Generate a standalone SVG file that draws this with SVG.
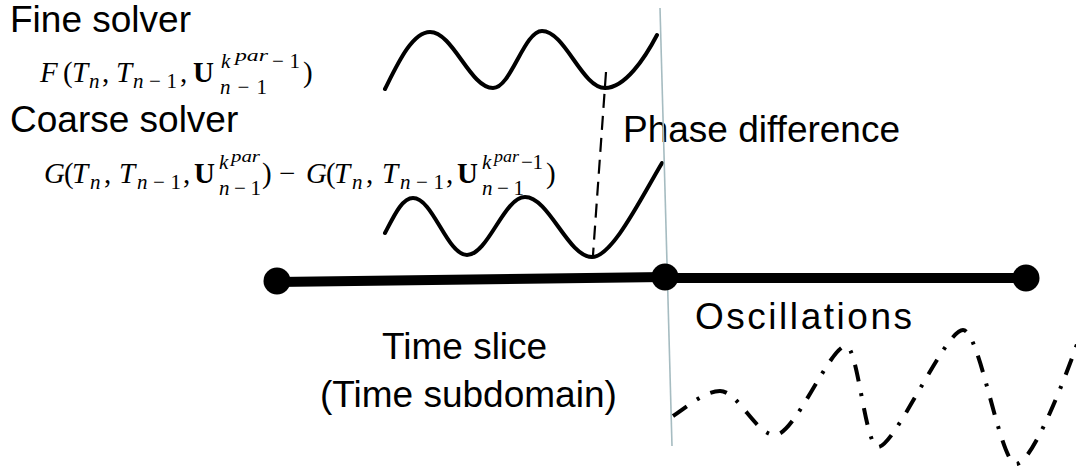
<svg xmlns="http://www.w3.org/2000/svg" width="1076" height="469" viewBox="0 0 1076 469">
  <style>
    .lbl { font-family: "Liberation Sans", Arial, sans-serif; font-size: 37px; fill: #000; }
    .m { font-family: "Liberation Serif", "Times New Roman", serif; font-size: 29px; fill: #000; }
    .mi { font-style: italic; }
    .mb { font-weight: bold; }
    .s { font-size: 21px; }
    .ss { font-size: 16px; }
    .wave { fill: none; stroke: #000; stroke-width: 4; stroke-linecap: round; stroke-linejoin: round; }
    .osc { fill: none; stroke: #000; stroke-width: 4; stroke-dasharray: 17 12 3 12; }
    .phase { fill: none; stroke: #000; stroke-width: 2.2; stroke-dasharray: 14 8; }
    .axis { stroke: #000; stroke-width: 10; }
    .dot { fill: #000; }
    .guide { stroke: #a6bcc1; stroke-width: 1.6; }
  </style>
  <rect width="1076" height="469" fill="#fff"/>

  <g id="fine-solver">
    <text class="lbl" x="10" y="32">Fine solver</text>
    <text class="m">
      <tspan class="mi" x="40" y="82">F</tspan>
      <tspan x="63" y="82">(</tspan>
      <tspan class="mi" x="72" y="82">T</tspan>
      <tspan class="mi s" x="89" y="88">n</tspan>
      <tspan x="102" y="82">,</tspan>
      <tspan class="mi" x="116" y="82">T</tspan>
      <tspan class="s" x="133" y="88" textLength="44" lengthAdjust="spacing"><tspan class="mi">n</tspan>−1</tspan>
      <tspan x="180" y="82">,</tspan>
      <tspan class="mb" x="193" y="82">U</tspan>
      <tspan class="s" x="220" y="94" textLength="47" lengthAdjust="spacing"><tspan class="mi">n</tspan>−1</tspan>
      <tspan class="mi s" x="221" y="68">k</tspan>
      <tspan class="mi ss" x="235" y="61" textLength="33" lengthAdjust="spacingAndGlyphs">par</tspan>
      <tspan class="s" x="272" y="68" textLength="28" lengthAdjust="spacing">−1</tspan>
      <tspan x="303" y="82">)</tspan>
    </text>
  </g>

  <g id="coarse-solver">
    <text class="lbl" x="10" y="132">Coarse solver</text>
    <text class="m">
      <tspan class="mi" x="44" y="183">G</tspan>
      <tspan x="64" y="183">(</tspan>
      <tspan class="mi" x="72" y="183">T</tspan>
      <tspan class="mi s" x="90" y="189">n</tspan>
      <tspan x="104" y="183">,</tspan>
      <tspan class="mi" x="119" y="183">T</tspan>
      <tspan class="s" x="137" y="189" textLength="44" lengthAdjust="spacing"><tspan class="mi">n</tspan>−1</tspan>
      <tspan x="183" y="183">,</tspan>
      <tspan class="mb" x="194" y="183">U</tspan>
      <tspan class="s" x="219" y="195" textLength="42" lengthAdjust="spacing"><tspan class="mi">n</tspan>−1</tspan>
      <tspan class="mi s" x="219" y="169">k</tspan>
      <tspan class="mi ss" x="231" y="162" textLength="29" lengthAdjust="spacingAndGlyphs">par</tspan>
      <tspan x="262" y="183">)</tspan>
      <tspan x="279" y="183">−</tspan>
      <tspan class="mi" x="306" y="183">G</tspan>
      <tspan x="326" y="183">(</tspan>
      <tspan class="mi" x="334" y="183">T</tspan>
      <tspan class="mi s" x="352" y="189">n</tspan>
      <tspan x="366" y="183">,</tspan>
      <tspan class="mi" x="382" y="183">T</tspan>
      <tspan class="s" x="400" y="189" textLength="44" lengthAdjust="spacing"><tspan class="mi">n</tspan>−1</tspan>
      <tspan x="446" y="183">,</tspan>
      <tspan class="mb" x="457" y="183">U</tspan>
      <tspan class="s" x="482" y="195" textLength="42" lengthAdjust="spacing"><tspan class="mi">n</tspan>−1</tspan>
      <tspan class="mi s" x="482" y="169">k</tspan>
      <tspan class="mi ss" x="494" y="162" textLength="25" lengthAdjust="spacingAndGlyphs">par</tspan>
      <tspan class="s" x="521" y="169" textLength="22" lengthAdjust="spacing">−1</tspan>
      <tspan x="546" y="183">)</tspan>
    </text>
  </g>

  <g id="fine-wave">
    <path class="wave" d="M385,89 C397,65 412,32 430,32 C453,32 470,88 493,88 C511,88 524,31 542,31 C565,31 582,88 605,88 C625,88 645,58 657,35"/>
  </g>

  <g id="coarse-wave">
    <path class="wave" d="M385,233 C394,216 402,198 413,198 C433,198 447,255 467,255 C488,255 504,197 525,197 C549,197 568,257 592,257 C612,257 640,200 662,163"/>
  </g>

  <g id="phase-difference">
    <text class="lbl" x="623" y="142">Phase difference</text>
  </g>

  <g id="guide-line">
    <line class="guide" x1="660" y1="8" x2="672" y2="446"/>
  </g>

  <g id="time-axis">
    <line class="axis" x1="277" y1="282" x2="665" y2="277"/>
    <line class="axis" x1="665" y1="278" x2="1026" y2="278"/>
    <circle class="dot" cx="277" cy="281" r="13.5"/>
    <circle class="dot" cx="665" cy="277" r="13.5"/>
    <circle class="dot" cx="1026" cy="278" r="13.5"/>
  </g>

  <g id="time-slice">
    <text class="lbl" x="382" y="359">Time slice</text>
    <text class="lbl" x="320" y="407">(Time subdomain)</text>
  </g>

  <g id="oscillations">
    <text class="lbl" x="695" y="329" textLength="217" lengthAdjust="spacing">Oscillations</text>
    <path class="osc" d="M673,416 C688,406 705,391 720,391 C738,391 756,435 775,435 C795,435 830,346 846,346 C858,346 865,447 878,447 C895,447 945,330 963,330 C980,330 1000,464 1016,464 C1032,464 1065,380 1082,330"/>
  </g>

  <g id="connectors">
    <path class="phase" d="M606,72 L593,255"/>
  </g>
</svg>
